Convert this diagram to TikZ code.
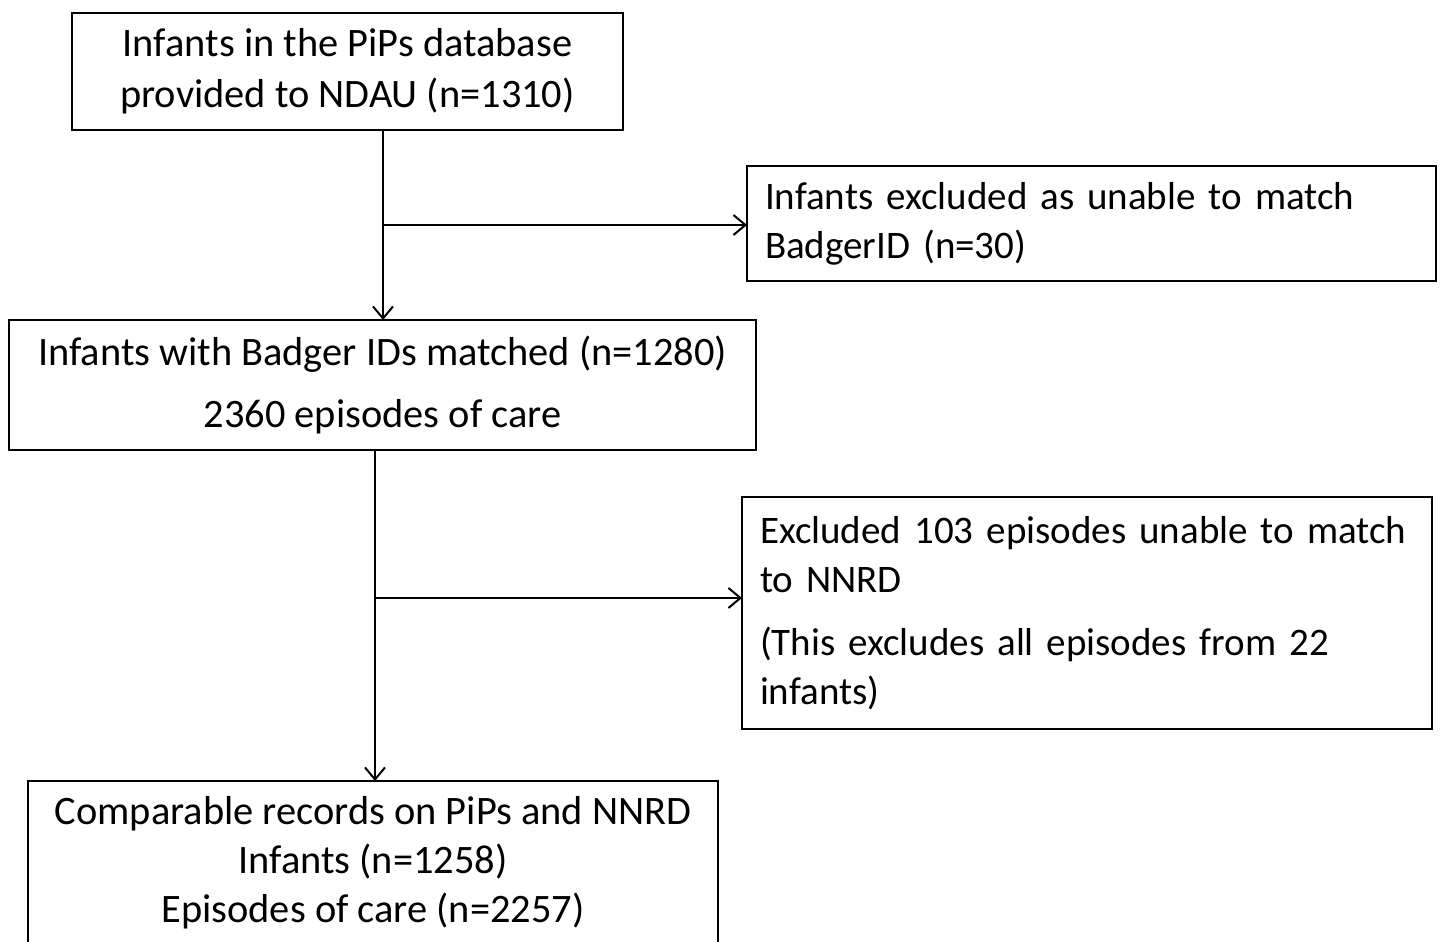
\documentclass[tikz,border=0pt]{standalone}
\usepackage{fontspec}
\setmainfont{Carlito}
\usetikzlibrary{positioning}
\usetikzlibrary{arrows.meta}

\begin{document}
\begin{tikzpicture}[x=0.5pt, y=-0.5pt,
	box/.style={draw=black, line width=1pt, inner sep=0pt, outer sep=0pt},
	midbox/.style={box, align=center, font=\fontsize{20.2}{24.5}\selectfont},
	sidebox/.style={box, align=left, inner xsep=9pt, font=\fontsize{19.5}{24.5}\selectfont},
	arrow/.style={line width=1pt, black, -{Straight Barb[length=6pt, width=10pt, line width=1pt]}}
]

% Page frame
\useasboundingbox (0,0) rectangle (1440,942);

% Main column boxes
\node[midbox, minimum width=275.5pt, minimum height=58.5pt] (pips) at (347.5,71)
	{Infants in the PiPs database\\[1pt]provided to NDAU (n=1310)};
\node[midbox, minimum width=373.5pt, minimum height=65pt] (matched) at (382.5,385)
	{Infants with Badger IDs matched (n=1280)\\[6.5pt]2360 episodes of care};
\node[midbox, minimum width=345pt, minimum height=82pt] (final) at (373,863)
	{Comparable records on PiPs and NNRD\\Infants (n=1258)\\Episodes of care (n=2257)};

% Exclusion boxes
\node[sidebox, text width=326.5pt, minimum height=57.5pt] (nobadger) at (1091.5,223.5)
	{Infants excluded as unable to match\\BadgerID (n=30)};
\node[sidebox, text width=327pt, minimum height=116pt] (nonnrd) at (1087,613)
	{Excluded 103 episodes unable to match\\to NNRD\\[7pt](This excludes all episodes from 22\\infants)};

% Branch points
\coordinate (j1) at (383,225);
\coordinate (j2) at (375,598);

% Connectors
\draw[arrow] (j1 |- pips.south) -- (j1 |- matched.north);
\draw[arrow] (j1) -- (j1 -| nobadger.west);

\draw[arrow] (j2 |- matched.south) -- (j2 |- final.north);
\draw[arrow] (j2) -- (j2 -| nonnrd.west);

\end{tikzpicture}
\end{document}
